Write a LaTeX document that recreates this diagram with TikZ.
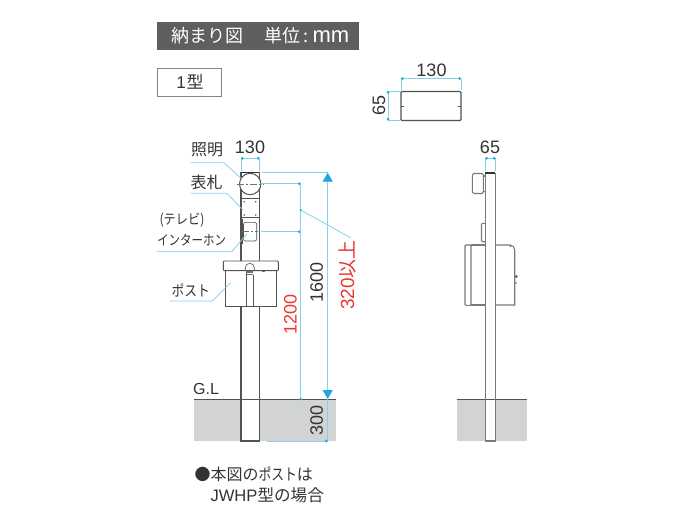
\documentclass[tikz,border=0pt]{standalone}
\usepackage{fontspec}
\usepackage{graphicx}
\setmainfont{Liberation Sans}
\newfontfamily\cjk{Noto Sans CJK JP}
\usetikzlibrary{arrows.meta}
\definecolor{dimblue}{HTML}{86D0EC}
\definecolor{tipblue}{HTML}{1CA9E2}
\definecolor{redtxt}{HTML}{E8382F}
\definecolor{ink}{HTML}{333333}
\definecolor{ground}{HTML}{D2D3D4}
\definecolor{hdr}{HTML}{5F5F5F}
\newcommand\fs[1]{\fontsize{#1}{#1}\selectfont}
\tikzset{
  x=1pt,y=-1pt,
  every node/.style={inner sep=0pt,outer sep=0pt,text=ink},
  part/.style={draw=ink!85,line width=0.9pt},
  thin part/.style={draw=ink!85,line width=0.6pt},
  side/.style={draw=ink!65,line width=1.1pt},
  leader/.style={draw=dimblue,line width=0.8pt},
  dimdot/.style={draw=dimblue,line width=0.8pt,{Circle[length=2.6pt,color=tipblue]}-{Circle[length=2.6pt,color=tipblue]}},
  enddot/.style={draw=dimblue,line width=0.8pt,-{Circle[length=2.6pt,color=tipblue]}},
  bigtip/.style={draw=dimblue,line width=0.8pt,{Triangle[length=9pt,width=10pt,color=tipblue]}-{Triangle[length=9pt,width=10pt,color=tipblue]}},
  dimtxt/.style={font=\fs{18}},
  jptxt/.style={font=\cjk\fs{16}},
  center dash/.style={draw=ink!70,line width=0.7pt,dash pattern=on 7pt off 2pt on 2pt off 2pt},
}
\begin{document}
\begin{tikzpicture}
\useasboundingbox (0,0) rectangle (700,525);
% header
\node[fill=hdr,minimum width=202pt,minimum height=28pt,anchor=north west] (hdrbox) at (157,22) {};
\node[text=white,font=\cjk\fs{18},anchor=west] (hdrtxt) at (171.5,35.5) {納まり図\hspace{21pt}単位\hspace{3pt}:\hspace{4pt}{\fontspec{Liberation Sans}\fs{22}mm}};
\node[draw=ink!60,line width=0.9pt,fill=white,minimum width=64pt,minimum height=28pt,anchor=north west] (typebox) at (157,68) {};
\node[font=\cjk\fs{17}] (typetxt) at (190,82) {{\fontspec{Liberation Sans}1\hspace{1pt}}型};
% top plan
\node[draw=ink!85,line width=1.2pt,rounded corners=1pt,minimum width=60pt,minimum height=29pt,anchor=north west] (plan) at (401,91.5) {};
\draw[ink!85,line width=0.7pt] (plan.west) -- ++(3,0) (plan.east) -- ++(-3,0);
\coordinate (pd1) at (401,78.5); \coordinate (pd2) at (461,78.5);
\coordinate (pd3) at (388,91); \coordinate (pd4) at (388,120.5);
\draw[leader] (pd1) -- (401,90) (pd2) -- (461,90) (pd3) -- (400,91) (pd4) -- (400,120.5);
\draw[dimdot] (pd1) -- (pd2);
\draw[dimdot] (pd3) -- (pd4);
\node[dimtxt] (t130a) at (431.5,70) {130};
\node[dimtxt,rotate=90] (t65a) at (379,105.5) {65};
% ground front
\fill[ground] (193.5,399) rectangle (335.5,441);
\fill[white] (241,399) rectangle (259,441);
\draw[ink!85,line width=1pt] (193.5,399) -- (335.5,399);
% post front
\draw[part,line width=1.1pt] (241,172.7) -- (241,441) -- (259.3,441) -- (259.3,172.7) -- cycle;
\fill[white] (223,261) rectangle (278.5,306.7);
% light
\node[draw=ink!85,line width=1pt,fill=white,circle,minimum size=21.4pt] (lamp) at (250.2,184) {};
\draw[ink,line width=1.4pt] (241,172.7) -- (259.3,172.7);
\draw[center dash] (236.7,184) -- (263.5,184);
% nameplate
\draw[thin part] (241,198.3) -- (259.3,198.3) (241,217.5) -- (259.3,217.5);
\foreach \p in {(244.2,201.7),(255.7,201.7),(244.2,215),(255.7,215)} \fill[ink!80] \p circle (0.9);
% intercom
\draw[thin part,rounded corners=2pt] (243.5,222.3) rectangle (256.7,241);
\draw[thin part] (242.6,219) -- (242.6,244);
\draw[center dash] (241.5,231.7) -- (258,231.7);
% mailbox front
\draw[part,rounded corners=1pt] (223.3,261) rectangle (278.3,270.7);
\draw[part] (225,270.7) rectangle (276,306.7);
\draw[thin part] (245.2,270.7) -- (245.2,267.9) arc[start angle=180,end angle=360,radius=4.6] -- (254.4,270.7);
\draw[thin part] (246,270.7) -- (246,306.7) (252.8,275) -- (252.8,306.7);
\fill[ink!70] (246,271.4) rectangle (253.4,272.6);
\fill[ink!70] (247,273.6) rectangle (252.5,275);
\fill[ink!70] (261.5,271) rectangle (265,272.3);
% leaders
\coordinate (l1a) at (190.7,162.7); \coordinate (l1b) at (224,162.7); \coordinate (l1c) at (241.7,179);
\coordinate (l2a) at (190.7,193.3); \coordinate (l2b) at (227,193.3); \coordinate (l2c) at (243,210);
\coordinate (l3a) at (156.7,251.7); \coordinate (l3b) at (231.7,251.7); \coordinate (l3c) at (246.7,234);
\coordinate (l4a) at (170,301); \coordinate (l4b) at (212.3,301); \coordinate (l4c) at (230.7,282.7);
\draw[leader] (l1a) -- (l1b) -- (l1c);
\draw[leader] (l2a) -- (l2b) -- (l2c);
\draw[leader] (l3a) -- (l3b) -- (l3c);
\draw[leader] (l4a) -- (l4b) -- (l4c);
\node[jptxt] (n1) at (207,150) {照明};
\node[jptxt] (n2) at (206.7,182) {表札};
\node[font=\cjk\fs{14}] (n3) at (182,220.5) {\scalebox{0.87}[1]{(テレビ)}};
\node[font=\cjk\fs{14}] (n4) at (191.7,240) {\scalebox{0.82}[1]{インターホン}};
\node[font=\cjk\fs{15}] (n5) at (190.7,290) {\scalebox{0.85}[1]{ポスト}};
\node[font=\fs{16}] (gl) at (206,389) {G.L};
% dims front
\coordinate (fd1) at (241,158.3); \coordinate (fd2) at (259.5,158.3);
\draw[leader] (fd1) -- (241,171) (fd2) -- (259.5,171);
\draw[dimdot] (fd1) -- (fd2);
\node[dimtxt] (t130b) at (250,147) {130};
\coordinate (v1) at (327.7,172.7); \coordinate (v2) at (327.7,399); \coordinate (v3) at (327.7,441);
\draw[leader] (261.5,172.7) -- (v1);
\draw[bigtip] (v1) -- (v2);
\draw[leader] (v2) -- (v3);
\draw[enddot] (266.7,441) -- (v3);
\coordinate (h1) at (300.7,183.7); \coordinate (h2) at (300.7,231.7); \coordinate (h3) at (300.7,399);
\draw[enddot] (261.5,183.7) -- (h1);
\draw[enddot] (261,231.7) -- (h2);
\draw[leader] (h1) -- (h3);
\fill[tipblue] (h3) circle (1.3);
\coordinate (lk1) at (300.7,210); \coordinate (lk2) at (351,238);
\draw[leader] (lk1) -- (lk2);
\fill[tipblue] (lk1) circle (1.2);
\node[dimtxt,rotate=90] (t1600) at (316.7,282) {1600};
\node[dimtxt,rotate=90,text=redtxt] (t1200) at (290.5,314) {1200};
\node[dimtxt,rotate=90] (t300) at (316.7,420) {300};
\node[rotate=90,text=redtxt,font=\fs{19}] (t320) at (347,275) {320{\cjk 以上}};
% side view ground
\fill[ground] (456.7,399) rectangle (526.7,441);
\fill[white] (485.3,399) rectangle (495.3,441);
\draw[ink!85,line width=1pt] (456.7,399) -- (526.7,399);
% mailbox side
\draw[side,rounded corners=1pt] (465,245) rectangle (471,305.3);
\draw[side] (471,245) -- (485.3,245) (471,305) -- (485.3,305);
\draw[side] (495.3,245) -- (510,245) to[out=0,in=90] (514.7,250) -- (514.7,305) -- (495.3,305);
\fill[ink!70] (510.5,246) circle (1.1);
\fill[ink!75] (516.2,276.5) circle (1.6);
\fill[ink!60] (516.2,283) circle (1);
% post side
\draw[side] (485.3,172.7) -- (485.3,441) -- (495.3,441) -- (495.3,172.7);
\draw[ink,line width=1.4pt] (485.3,172.9) -- (495.3,172.9);
\draw[side,rounded corners=1.5pt] (472.3,173.5) rectangle (483.3,193.5);
\draw[side] (483.3,176) -- (485.3,176) (483.3,191.7) -- (485.3,191.7);
\draw[side,rounded corners=1pt] (485.3,223.3) -- (481.5,223.3) -- (481.5,241.7) -- (485.3,241.7);
% side dim
\coordinate (sd1) at (485.3,158.3); \coordinate (sd2) at (495.5,158.3);
\draw[leader] (sd1) -- (485.3,171) (sd2) -- (495.5,171);
\draw[dimdot] (sd1) -- (sd2);
\node[dimtxt] (t65b) at (490,147) {65};
% note
\node[font=\cjk\fs{16},anchor=west] (note1) at (194.5,474) {●本図の\scalebox{0.8}[1]{ポスト}は};
\node[font=\cjk\fs{16.6},anchor=west] (note2) at (210.5,495.5) {{\fontspec{Liberation Sans}JWHP}型の場合};
\end{tikzpicture}
\end{document}
